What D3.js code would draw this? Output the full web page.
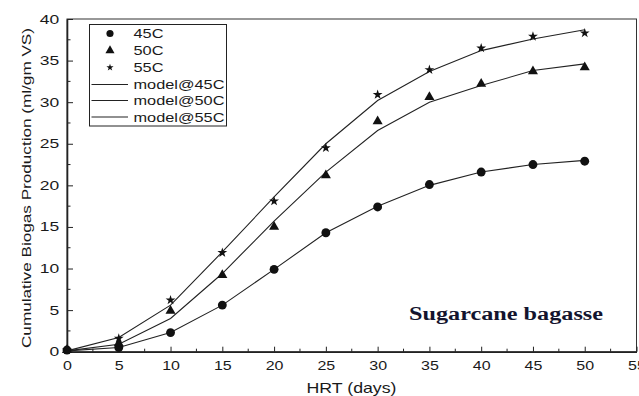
<!DOCTYPE html>
<html>
<head>
<meta charset="utf-8">
<script src="https://cdn.jsdelivr.net/npm/d3@7"></script>
<style>
  body { margin: 0; background: #fff; }
  text { font-family: "Liberation Sans", Arial, sans-serif; fill: #1a1a1a; }
</style>
</head>
<body>
<div id="chart"></div>
<script>
// HRT days
var hrt = [0, 5, 10, 15, 20, 25, 30, 35, 40, 45, 50];
// measured points
var obs45 = [0.2, 0.5, 2.3, 5.6, 9.9, 14.3, 17.4, 20.1, 21.6, 22.5, 22.9];
var obs50 = [0.2, 1.0, 4.9, 9.2, 15.0, 21.2, 27.7, 30.6, 32.2, 33.7, 34.2];
var obs55 = [0.2, 1.6, 6.2, 11.9, 18.1, 24.5, 30.9, 33.9, 36.5, 37.9, 38.3];
// model curves
var model45 = [0.1, 0.5, 2.3, 5.6, 9.9, 14.3, 17.5, 20.0, 21.6, 22.5, 23.0];
var model50 = [0.1, 0.9, 4.0, 9.4, 15.7, 21.6, 26.6, 30.0, 32.0, 33.8, 34.6];
var model55 = [0.1, 1.7, 5.6, 12.0, 18.6, 25.0, 30.2, 33.7, 36.2, 37.6, 38.7];
var xTicks = [0, 5, 10, 15, 20, 25, 30, 35, 40, 45, 50, 55];
var yTicks = [0, 5, 10, 15, 20, 25, 30, 35, 40];
var legendLabels = ["45C", "50C", "55C", "model@45C", "model@50C", "model@55C"];

var width = 639, height = 396;
var margin = { top: 19, right: 2.5, bottom: 44.3, left: 67 };

var svg = d3.select("#chart").append("svg")
    .attr("width", width)
    .attr("height", height);

var x = d3.scaleLinear().domain([0, 55]).range([margin.left, width - margin.right]);
var y = d3.scaleLinear().domain([0, 40]).range([height - margin.bottom, margin.top]);

// frame
svg.append("rect")
    .attr("x", x(0)).attr("y", y(40))
    .attr("width", x(55) - x(0)).attr("height", y(0) - y(40))
    .style("fill", "none").style("stroke", "#333").style("stroke-width", 1);

// minor ticks (inward)
var xMinor = d3.range(2.5, 55, 5);
var yMinor = d3.range(2.5, 40, 5);
svg.append("g").selectAll("line").data(xMinor).enter().append("line")
    .attr("x1", function (d) { return x(d); }).attr("x2", function (d) { return x(d); })
    .attr("y1", y(0)).attr("y2", y(0) - 3)
    .style("stroke", "#222");
svg.append("g").selectAll("line").data(yMinor).enter().append("line")
    .attr("y1", function (d) { return y(d); }).attr("y2", function (d) { return y(d); })
    .attr("x1", x(0)).attr("x2", x(0) + 3.5)
    .style("stroke", "#222");

// X axis
var xAxis = svg.append("g")
    .attr("transform", "translate(0," + y(0) + ")")
    .call(d3.axisBottom(x).tickValues(xTicks).tickSizeInner(-5).tickSizeOuter(0).tickPadding(9));
xAxis.select(".domain").style("stroke", "#222").style("stroke-width", 1.6);
xAxis.selectAll(".tick line").style("stroke", "#222");
xAxis.selectAll("text")
    .style("font-size", "12.5px")
    .attr("transform", "scale(1.28,1)")
    .style("fill", "#1a1a1a");

// Y axis
var yAxis = svg.append("g")
    .attr("transform", "translate(" + x(0) + ",0)")
    .call(d3.axisLeft(y).tickValues(yTicks).tickSizeInner(-6).tickSizeOuter(0).tickPadding(7));
yAxis.select(".domain").style("stroke", "#222").style("stroke-width", 1.6);
yAxis.selectAll(".tick line").style("stroke", "#222");
yAxis.selectAll("text")
    .style("font-size", "12.5px")
    .attr("x", -5.5)
    .attr("transform", "scale(1.4,1)")
    .style("fill", "#1a1a1a");

// axis titles
svg.append("text")
    .attr("x", 351.5).attr("y", 393)
    .attr("text-anchor", "middle")
    .attr("textLength", 90).attr("lengthAdjust", "spacingAndGlyphs")
    .style("font-size", "14.5px")
    .text("HRT (days)");

svg.append("text")
    .attr("transform", "translate(31,188) rotate(-90)")
    .attr("text-anchor", "middle")
    .attr("textLength", 320).attr("lengthAdjust", "spacingAndGlyphs")
    .style("font-size", "13px")
    .text("Cumulative Biogas Production (ml/gm VS)");

// model lines
var line = d3.line()
    .x(function (d, i) { return x(hrt[i]); })
    .y(function (d) { return y(d); });

[model45, model50, model55].forEach(function (m) {
    svg.append("path")
        .attr("d", line(m))
        .style("fill", "none")
        .style("stroke", "#222")
        .style("stroke-width", 1.1);
});

// observed points
var series = [
    { data: obs45, sym: d3.symbolCircle, size: 62, legSize: 40 },
    { data: obs50, sym: d3.symbolTriangle, size: 44, legSize: 36 },
    { data: obs55, sym: d3.symbolStar, size: 30, legSize: 16 }
];
series.forEach(function (s) {
    svg.append("g").selectAll("path")
        .data(s.data)
        .enter().append("path")
        .attr("d", d3.symbol().type(s.sym).size(s.size))
        .attr("transform", function (d, i) { return "translate(" + x(hrt[i]) + "," + y(d) + ")"; })
        .style("fill", "#111");
});

// legend
var legend = svg.append("g");
legend.append("rect")
    .attr("x", 89.5).attr("y", 24.5).attr("width", 137).attr("height", 101.5)
    .style("fill", "#fff").style("stroke", "#222").style("stroke-width", 1);

var rowY = [33.5, 50.5, 67.5, 84.5, 100.5, 117];
legendLabels.forEach(function (lab, i) {
    if (i < 3) {
        legend.append("path")
            .attr("d", d3.symbol().type(series[i].sym).size(series[i].legSize))
            .attr("transform", "translate(110," + rowY[i] + ")")
            .style("fill", "#111");
    } else {
        legend.append("line")
            .attr("x1", 91.5).attr("x2", 128)
            .attr("y1", rowY[i]).attr("y2", rowY[i])
            .style("stroke", "#222").style("stroke-width", 1.1);
    }
    legend.append("text")
        .attr("x", 133.5).attr("y", rowY[i] + 4.8)
        .attr("textLength", lab.length > 3 ? 91 : 30).attr("lengthAdjust", "spacingAndGlyphs")
        .style("font-size", "13.5px")
        .text(lab);
});

// annotation
svg.append("text")
    .attr("x", 409).attr("y", 320)
    .attr("textLength", 194).attr("lengthAdjust", "spacingAndGlyphs")
    .style("font-family", "'Liberation Serif', 'Times New Roman', serif")
    .style("font-weight", "bold")
    .style("font-size", "18.5px")
    .style("fill", "#14142e")
    .text("Sugarcane bagasse");
</script>
</body>
</html>
